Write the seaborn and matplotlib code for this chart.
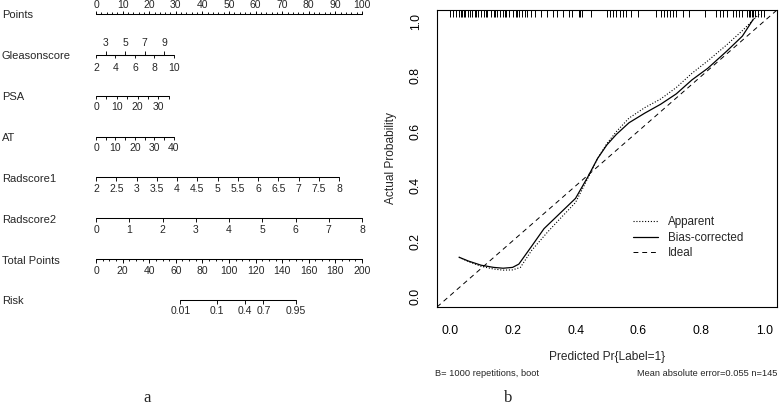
import numpy as np
import matplotlib
matplotlib.use("Agg")
import matplotlib.pyplot as plt
import matplotlib.transforms as mtransforms
from matplotlib.lines import Line2D
import seaborn as sns

# ---------------- panel a: nomogram ----------------
row_names = ["Points", "Gleasonscore", "PSA", "AT", "Radscore1", "Radscore2", "Total Points", "Risk"]

points_labels = [0, 10, 20, 30, 40, 50, 60, 70, 80, 90, 100]
points_minor = list(range(0, 101, 2))

gleason_ticks = [2, 3, 4, 5, 6, 7, 8, 9, 10]
gleason_max_pts = 29.3

psa_ticks = [0, 5, 10, 15, 20, 25, 30, 35]
psa_labels = [0, 10, 20, 30]
psa_max_pts = 27.4

at_ticks = [0, 5, 10, 15, 20, 25, 30, 35, 40]
at_labels = [0, 10, 20, 30, 40]
at_max_pts = 29.3

rad1_ticks = [2, 2.5, 3, 3.5, 4, 4.5, 5, 5.5, 6, 6.5, 7, 7.5, 8]
rad1_max_pts = 91.4

rad2_ticks = [0, 1, 2, 3, 4, 5, 6, 7, 8]
rad2_max_pts = 100

total_minor = list(range(0, 201, 5))
total_labels = [0, 20, 40, 60, 80, 100, 120, 140, 160, 180, 200]

risk_labels = [0.01, 0.1, 0.4, 0.7, 0.95]
risk_total_pts = [63.5, 91.2, 112.0, 125.8, 150.0]

# ---------------- panel b: calibration ----------------
rug_pred = [0.00, 0.01, 0.02, 0.03, 0.035, 0.04, 0.045, 0.05, 0.06, 0.065, 0.07, 0.08,
            0.085, 0.09, 0.10, 0.11, 0.115, 0.12, 0.13, 0.14, 0.145, 0.15, 0.16, 0.17,
            0.175, 0.18, 0.19, 0.20, 0.21, 0.215, 0.22, 0.23, 0.24, 0.245, 0.26, 0.27,
            0.29, 0.31, 0.33, 0.34, 0.36, 0.38, 0.39, 0.41, 0.415, 0.42, 0.45, 0.50,
            0.51, 0.52, 0.53, 0.54, 0.55, 0.56, 0.575, 0.60, 0.655, 0.67, 0.68, 0.69,
            0.70, 0.71, 0.72, 0.74, 0.76, 0.81, 0.845, 0.86, 0.87, 0.88, 0.90, 0.91,
            0.92, 0.93, 0.945, 0.95, 0.955, 0.96, 0.965, 0.97, 0.98, 0.99, 1.00]

app_x = [0.03, 0.06, 0.10, 0.14, 0.17, 0.20, 0.225, 0.26, 0.31, 0.35, 0.40, 0.44,
         0.47, 0.50, 0.53, 0.57, 0.62, 0.67, 0.72, 0.77, 0.82, 0.88, 0.93, 0.986]
app_y = [0.141, 0.125, 0.108, 0.098, 0.094, 0.095, 0.104, 0.165, 0.231, 0.28, 0.34, 0.43,
         0.50, 0.555, 0.598, 0.647, 0.685, 0.716, 0.758, 0.81, 0.855, 0.913, 0.965, 1.028]

bc_x = [0.03, 0.06, 0.10, 0.14, 0.17, 0.20, 0.22, 0.26, 0.30, 0.35, 0.40, 0.44,
        0.47, 0.50, 0.53, 0.57, 0.62, 0.67, 0.72, 0.77, 0.82, 0.88, 0.93, 0.965]
bc_y = [0.141, 0.127, 0.112, 0.104, 0.101, 0.104, 0.116, 0.18, 0.245, 0.30, 0.355, 0.435,
        0.50, 0.55, 0.588, 0.63, 0.665, 0.697, 0.735, 0.786, 0.828, 0.89, 0.945, 1.007]

sns.set_style("white")
plt.rcParams["font.family"] = ["Liberation Sans", "DejaVu Sans"]

W, H = 780, 412
fig = plt.figure(figsize=(7.8, 4.12), dpi=100)


def fx(px):
    return px / W


def fy(py):
    return 1 - py / H


# nomogram axes: x is the Points scale, y is the row index
ax_n = fig.add_axes([fx(96), fy(300), fx(362) - fx(96), fy(14) - fy(300)])
ax_n.set_xlim(0, 100)
ax_n.set_ylim(7, 0)
ax_n.axis("off")
ROW_PX = (300 - 14) / 7


def r(px):
    return px / ROW_PX


def draw_scale(row, minor_pos, major_pos, lab_pos, texts, side=1, lab_off=11.5):
    # side=1 ticks/labels below, side=-1 above
    ax_n.plot([min(minor_pos + major_pos), max(minor_pos + major_pos)], [row, row],
              color="black", lw=0.75, clip_on=False)
    if minor_pos:
        ax_n.vlines(minor_pos, row, row + side * r(2), color="black", lw=0.65, clip_on=False)
    ax_n.vlines(major_pos, row, row + side * r(3.5), color="black", lw=0.65, clip_on=False)
    for p, t in zip(lab_pos, texts):
        ax_n.text(p, row + side * r(lab_off), t, ha="center", va="center", fontsize=7.5)


def to_pts(vals, vmin, vmax, maxp):
    return [(v - vmin) / (vmax - vmin) * maxp for v in vals]


fmt = lambda v: f"{v:g}"

draw_scale(0, points_minor, points_labels, points_labels, [fmt(v) for v in points_labels], side=-1, lab_off=9)

g_odd = [v for v in gleason_ticks if v % 2 == 1]
g_even = [v for v in gleason_ticks if v % 2 == 0]
draw_scale(1, [], to_pts(g_odd, 2, 10, gleason_max_pts), to_pts(g_odd, 2, 10, gleason_max_pts),
           [fmt(v) for v in g_odd], side=-1, lab_off=12)
draw_scale(1, [], to_pts(g_even, 2, 10, gleason_max_pts), to_pts(g_even, 2, 10, gleason_max_pts),
           [fmt(v) for v in g_even], side=1, lab_off=13)

draw_scale(2, [], to_pts(psa_ticks, 0, 35, psa_max_pts), to_pts(psa_labels, 0, 35, psa_max_pts),
           [fmt(v) for v in psa_labels])
draw_scale(3, [], to_pts(at_ticks, 0, 40, at_max_pts), to_pts(at_labels, 0, 40, at_max_pts),
           [fmt(v) for v in at_labels])
draw_scale(4, [], to_pts(rad1_ticks, 2, 8, rad1_max_pts), to_pts(rad1_ticks, 2, 8, rad1_max_pts),
           [fmt(v) for v in rad1_ticks])
draw_scale(5, [], to_pts(rad2_ticks, 0, 8, rad2_max_pts), to_pts(rad2_ticks, 0, 8, rad2_max_pts),
           [fmt(v) for v in rad2_ticks])
draw_scale(6, to_pts(total_minor, 0, 200, 100), to_pts(total_labels, 0, 200, 100),
           to_pts(total_labels, 0, 200, 100), [fmt(v) for v in total_labels])
draw_scale(7, [], to_pts(risk_total_pts, 0, 200, 100), to_pts(risk_total_pts, 0, 200, 100),
           [fmt(v) for v in risk_labels])

lab_tr = mtransforms.blended_transform_factory(fig.transFigure, ax_n.transData)
for i, name in enumerate(row_names):
    ax_n.text(fx(2), i + r(1.5), name, transform=lab_tr, ha="left", va="center", fontsize=8)

# calibration axes
ax_c = fig.add_axes([fx(437), fy(307), fx(777) - fx(437), fy(10) - fy(307)])
ax_c.set_xlim(-0.04, 1.04)
ax_c.set_ylim(-0.04, 1.04)

ax_c.axline((0, 0), (1, 1), color="black", lw=0.7, ls=(0, (5, 4)))
sns.lineplot(x=app_x, y=app_y, ax=ax_c, color="black", lw=0.8, ls=(0, (1, 1.6)),
             sort=False, estimator=None)
sns.lineplot(x=bc_x, y=bc_y, ax=ax_c, color="black", lw=0.9, sort=False, estimator=None)
ax_c.vlines(rug_pred, 1 - 7 / 297, 1, transform=ax_c.get_xaxis_transform(),
            color="black", lw=0.7)

ticks = [0.0, 0.2, 0.4, 0.6, 0.8, 1.0]
ax_c.set_xticks(ticks)
ax_c.set_xticklabels([f"{t:.1f}" for t in ticks])
ax_c.set_yticks(ticks)
ax_c.set_yticklabels([f"{t:.1f}" for t in ticks], rotation=90, va="center")
ax_c.tick_params(axis="both", direction="out", length=5, width=0.7, labelsize=8.8,
                 color="black", labelcolor="black")
ax_c.tick_params(axis="x", pad=8)
ax_c.tick_params(axis="y", pad=6)
ax_c.set_xlabel("")
ax_c.set_ylabel("")
for s in ax_c.spines.values():
    s.set_color("black")
    s.set_linewidth(0.8)

handles = [Line2D([], [], color="black", lw=0.8, ls=(0, (1, 1.6))),
           Line2D([], [], color="black", lw=0.9),
           Line2D([], [], color="black", lw=0.7, ls=(0, (5, 4)))]
ax_c.legend(handles, ["Apparent", "Bias-corrected", "Ideal"], loc="center left",
            bbox_to_anchor=((633 - 437) / 340, (307 - 238) / 297), frameon=False,
            fontsize=8.4, handlelength=2.1, handletextpad=0.9, labelspacing=0.3,
            borderpad=0, borderaxespad=0)

fig.text(fx(607), fy(357), "Predicted Pr{Label=1}", ha="center", va="center", fontsize=8.6)
fig.text(fx(391), fy(158.5), "Actual Probability", ha="center", va="center", rotation=90, fontsize=8.6)
fig.text(fx(435), fy(373), "B= 1000 repetitions, boot", ha="left", va="center", fontsize=6.7)
fig.text(fx(777), fy(373), "Mean absolute error=0.055 n=145", ha="right", va="center", fontsize=6.7)

fig.text(fx(147), fy(398), "a", ha="center", va="center", fontsize=12, family="Liberation Serif")
fig.text(fx(508), fy(398), "b", ha="center", va="center", fontsize=12, family="Liberation Serif")

fig.savefig("out.png", dpi=100)
